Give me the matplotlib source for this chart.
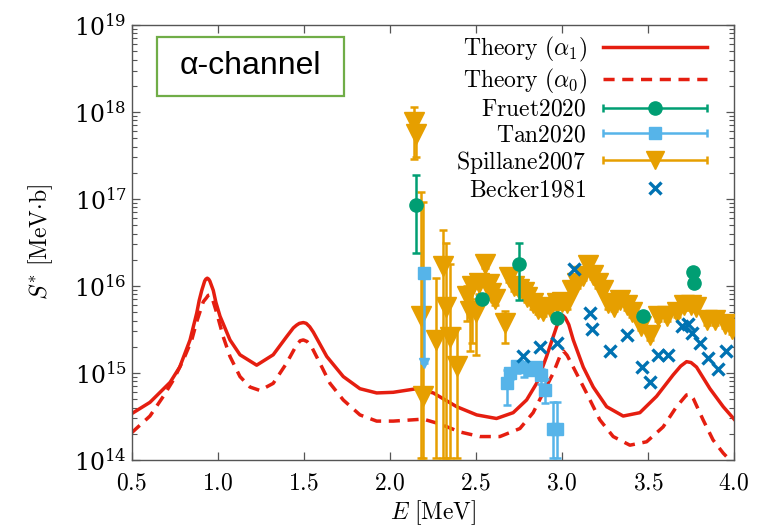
import numpy as np
import matplotlib

matplotlib.use("Agg")
import matplotlib.pyplot as plt
from matplotlib.container import ErrorbarContainer
from matplotlib.legend_handler import HandlerErrorbar
from matplotlib.patches import Rectangle
from matplotlib.ticker import FixedLocator, FuncFormatter, LogLocator, LogFormatterMathtext, NullFormatter

plt.rcParams["mathtext.fontset"] = "cm"
plt.rcParams["font.family"] = ["DejaVu Serif"]

# ---------------------------------------------------------------------------
# Data
# ---------------------------------------------------------------------------

# Theory, alpha_1 channel (solid)
theory_a1_E = [0.50, 0.607, 0.724, 0.78, 0.84, 0.879, 0.893, 0.908, 0.925, 0.932, 0.94,
               0.948, 0.955, 0.975, 0.99, 1.014, 1.072, 1.13, 1.227, 1.323, 1.40, 1.44,
               1.459, 1.475, 1.498, 1.515, 1.535, 1.556, 1.634, 1.73, 1.827, 1.924, 2.02,
               2.156, 2.253, 2.389, 2.505, 2.62, 2.717, 2.795, 2.853, 2.911, 2.94, 2.969,
               2.99, 3.005, 3.02, 3.04, 3.066, 3.124, 3.182, 3.26, 3.356, 3.453, 3.55,
               3.646, 3.69, 3.724, 3.75, 3.782, 3.86, 3.937, 4.0]
theory_a1_S = [3.4e14, 4.6e14, 7.8e14, 1.17e15, 2.4e15, 4.9e15, 6.8e15, 8.9e15, 1.14e16,
               1.2e16, 1.23e16, 1.2e16, 1.14e16, 8.9e15, 6.5e15, 4.5e15, 2.4e15, 1.62e15,
               1.23e15, 1.62e15, 2.6e15, 3.3e15, 3.55e15, 3.72e15, 3.8e15, 3.72e15,
               3.4e15, 2.95e15, 1.55e15, 9.1e14, 6.6e14, 5.9e14, 6.0e14, 6.6e14, 5.9e14,
               4.1e14, 3.3e14, 3.0e14, 3.5e14, 4.9e14, 7.6e14, 1.55e15, 2.3e15, 3.4e15,
               4.3e15, 4.6e15, 4.3e15, 3.6e15, 2.4e15, 1.17e15, 6.9e14, 4.1e14, 3.2e14,
               3.5e14, 5.4e14, 9.5e14, 1.2e15, 1.35e15, 1.32e15, 1.17e15, 6.6e14, 4.1e14,
               2.95e14]

# Theory, alpha_0 channel (dashed)
theory_a0_E = [0.50, 0.607, 0.685, 0.743, 0.80, 0.85, 0.879, 0.917, 0.935, 0.945, 0.956,
               0.965, 0.975, 0.995, 1.033, 1.072, 1.13, 1.188, 1.246, 1.323, 1.40, 1.459,
               1.48, 1.498, 1.52, 1.546, 1.595, 1.653, 1.73, 1.827, 1.924, 2.02, 2.195,
               2.29, 2.408, 2.524, 2.64, 2.756, 2.833, 2.891, 2.95, 2.988, 3.008, 3.03,
               3.066, 3.143, 3.22, 3.298, 3.395, 3.492, 3.588, 3.666, 3.724, 3.745, 3.763,
               3.82, 3.878, 3.937, 4.0]
theory_a0_S = [2.05e14, 3.2e14, 5.4e14, 8.3e14, 1.4e15, 2.4e15, 3.9e15, 6.6e15, 7.3e15,
               7.8e15, 7.9e15, 7.6e15, 6.6e15, 4.9e15, 2.6e15, 1.55e15, 9.1e14, 6.9e14,
               6.3e14, 7.6e14, 1.29e15, 2.1e15, 2.35e15, 2.4e15, 2.3e15, 2.0e15, 1.29e15,
               7.6e14, 4.9e14, 3.3e14, 2.8e14, 2.8e14, 2.95e14, 2.6e14, 2.1e14, 1.86e14,
               1.86e14, 2.3e14, 3.5e14, 5.9e14, 1.0e15, 1.55e15, 1.8e15, 1.6e15, 1.17e15,
               5.9e14, 2.9e14, 1.86e14, 1.48e14, 1.62e14, 2.4e14, 4.1e14, 5.6e14, 5.7e14,
               5.1e14, 2.9e14, 1.7e14, 1.2e14, 8.9e13]

# Fruet2020
fruet_E = [2.155, 2.535, 2.752, 2.97, 3.47, 3.76, 3.765]
fruet_S = [8.5e16, 7.1e15, 1.8e16, 4.3e15, 4.5e15, 1.45e16, 1.08e16]
fruet_lo = [2.4e16, 6.3e15, 6.9e15, 4.0e15, 4.2e15, 1.35e16, 1.0e16]
fruet_hi = [1.9e17, 8.0e15, 3.1e16, 4.6e15, 4.8e15, 1.55e16, 1.16e16]

# Tan2020
tan_E = [2.20, 2.68, 2.70, 2.74, 2.78, 2.82, 2.85, 2.88, 2.90, 2.95, 2.97]
tan_S = [1.4e16, 7.7e14, 1.0e15, 1.2e15, 1.17e15, 1.07e15, 1.17e15, 9.5e14, 6.3e14, 2.3e14, 2.3e14]
tan_lo = [1.3e15, 4.3e14, 8.5e14, 1.0e15, 9.0e14, 9.5e14, 1.0e15, 7.5e14, 4.5e14, 1.05e14, 1.05e14]
tan_hi = [1.5e16, 1.07e15, 1.15e15, 1.35e15, 1.3e15, 1.2e15, 1.3e15, 1.1e15, 8.5e14, 4.6e14, 4.6e14]

# Spillane2007
spill_E = [2.14, 2.15, 2.18, 2.195, 2.27, 2.31, 2.325, 2.35, 2.39,
           2.45, 2.465, 2.475, 2.50, 2.52, 2.555, 2.575, 2.59, 2.61, 2.67, 2.69,
           2.72, 2.75, 2.78, 2.80, 2.83, 2.86, 2.89, 2.93, 2.97, 3.00, 3.03, 3.06,
           3.09, 3.12, 3.15, 3.18, 3.21, 3.24, 3.27, 3.30, 3.34, 3.38, 3.41, 3.46,
           3.51, 3.56, 3.61, 3.67, 3.71, 3.75, 3.78, 3.84, 3.89, 3.95, 3.99]
spill_S = [7.6e17, 5.6e17, 4.5e15, 5.4e14, 2.4e15, 1.7e16, 5.8e15, 2.6e15, 1.2e15,
           7.6e15, 5.2e15, 1.0e16, 5.0e15, 1.07e16, 1.8e16, 1.05e16, 8.3e15, 7.1e15, 3.8e15, 1.26e16,
           1.0e16, 9.3e15, 8.5e15, 7.4e15, 6.3e15, 5.5e15, 5.2e15, 5.8e15, 6.3e15, 6.6e15, 6.3e15, 9.1e15,
           1.07e16, 1.32e16, 1.74e16, 1.35e16, 1.07e16, 9.1e15, 6.3e15, 5.8e15, 6.9e15, 6.0e15, 5.0e15, 3.5e15,
           2.75e15, 4.5e15, 4.5e15, 5.0e15, 6.0e15, 6.0e15, 5.8e15, 4.1e15, 4.1e15, 3.7e15, 3.2e15]
spill_lo = [2.9e17, 3.0e17, 1.05e14, 1.05e14, 1.05e14, 1.05e14, 1.05e14, 1.05e14, 1.05e14,
            4.0e15, 1.8e15, 2.2e15, 1.6e15, 8.0e15, 1.6e16, 9.0e15, 7.0e15, 6.0e15, 2.2e15, 1.1e16,
            8.8e15, 8.2e15, 7.5e15, 6.5e15, 5.5e15, 4.8e15, 4.5e15, 5.1e15, 5.5e15, 5.8e15, 5.5e15, 8.0e15,
            9.4e15, 1.16e16, 1.53e16, 1.19e16, 9.4e15, 8.0e15, 5.5e15, 5.1e15, 6.1e15, 5.3e15, 4.4e15, 3.1e15,
            2.4e15, 4.0e15, 4.0e15, 4.4e15, 5.3e15, 5.3e15, 5.1e15, 3.6e15, 3.6e15, 3.3e15, 2.8e15]
spill_hi = [1.15e18, 8.5e17, 1.2e17, 9.3e16, 1.23e16, 4.4e16, 3.1e16, 1.8e16, 3.3e15,
            1.0e16, 8.9e15, 1.17e16, 7.1e15, 1.3e16, 2.0e16, 1.2e16, 9.6e15, 8.2e15, 5.2e15, 1.42e16,
            1.13e16, 1.05e16, 9.6e15, 8.4e15, 7.1e15, 6.2e15, 5.9e15, 6.6e15, 7.1e15, 7.5e15, 7.1e15, 1.03e16,
            1.21e16, 1.49e16, 1.97e16, 1.53e16, 1.21e16, 1.03e16, 7.1e15, 6.6e15, 7.8e15, 6.8e15, 5.7e15, 4.0e15,
            3.1e15, 5.1e15, 5.1e15, 5.7e15, 6.8e15, 6.8e15, 6.6e15, 4.6e15, 4.6e15, 4.2e15, 3.6e15]

# Becker1981
becker_E = [2.775, 2.872, 2.969, 3.07, 3.163, 3.172, 3.279, 3.376, 3.463, 3.511,
            3.559, 3.617, 3.695, 3.73, 3.753, 3.80, 3.85, 3.908, 3.956]
becker_S = [1.55e15, 2.0e15, 2.2e15, 1.55e16, 4.9e15, 3.2e15, 1.78e15, 2.75e15, 1.17e15, 7.9e14,
            1.62e15, 1.62e15, 3.5e15, 3.7e15, 2.9e15, 2.2e15, 1.5e15, 1.12e15, 1.78e15]

x_ticks = [0.5, 1.0, 1.5, 2.0, 2.5, 3.0, 3.5, 4.0]

RED = "#e51e10"
GREEN = "#009e73"
LIGHTBLUE = "#56b4e9"
ORANGE = "#e69f00"
BLUE = "#0072b2"
FS = 17


def _bounds_to_err(values, lo, hi):
    v = np.asarray(values)
    return [v - np.asarray(lo), np.asarray(hi) - v]


fig = plt.figure(figsize=(7.58, 5.31), dpi=100)
ax = fig.add_axes([0.1735, 0.1337, 0.7949, 0.8192])

# theory curves
ax.plot(theory_a1_E, theory_a1_S, color=RED, lw=2.5, zorder=2)
ax.plot(theory_a0_E, theory_a0_S, color=RED, lw=2.5, dashes=(3.2, 2.2), zorder=2)

# data sets
err_kw = dict(linestyle="none", elinewidth=1.8, capsize=3, capthick=1.8)
ax.errorbar(spill_E, spill_S, yerr=_bounds_to_err(spill_S, spill_lo, spill_hi),
            fmt="v", color=ORANGE, ms=14, zorder=3, **err_kw)
ax.errorbar(fruet_E, fruet_S, yerr=_bounds_to_err(fruet_S, fruet_lo, fruet_hi),
            fmt="o", color=GREEN, ms=9.5, zorder=4, **err_kw)
ax.errorbar(tan_E, tan_S, yerr=_bounds_to_err(tan_S, tan_lo, tan_hi),
            fmt="s", color=LIGHTBLUE, ms=8, zorder=4, **err_kw)
ax.plot(tan_E[0], tan_lo[0], marker="v", color=LIGHTBLUE, ms=7, zorder=4)
ax.plot(becker_E, becker_S, "x", color=BLUE, ms=8, mew=2.4, zorder=5)

# legend proxies (gnuplot-style key with horizontal bars)
h_a1, = ax.plot([], [], color=RED, lw=2.5, label=r"$\mathrm{Theory}\ (\alpha_1)$")
h_a0, = ax.plot([], [], color=RED, lw=2.5, dashes=(3.2, 2.2), label=r"$\mathrm{Theory}\ (\alpha_0)$")
h_fr = ax.errorbar([np.nan], [np.nan], xerr=[1.0], fmt="o", color=GREEN, ms=9.5,
                   label=r"$\mathrm{Fruet2020}$", **err_kw)
h_tn = ax.errorbar([np.nan], [np.nan], xerr=[1.0], fmt="s", color=LIGHTBLUE, ms=8,
                   label=r"$\mathrm{Tan2020}$", **err_kw)
h_sp = ax.errorbar([np.nan], [np.nan], xerr=[1.0], fmt="v", color=ORANGE, ms=13,
                   label=r"$\mathrm{Spillane2007}$", **err_kw)
h_bk, = ax.plot([], [], "x", color=BLUE, ms=8, mew=2.4, label=r"$\mathrm{Becker1981}$")

ax.legend(handles=[h_a1, h_a0, h_fr, h_tn, h_sp, h_bk],
          handler_map={ErrorbarContainer: HandlerErrorbar(xerr_size=2.2)},
          loc="upper right", bbox_to_anchor=(0.955, 0.977), frameon=False,
          markerfirst=False, numpoints=1, handlelength=4.4, handletextpad=0.7,
          labelspacing=0.1, fontsize=FS, borderaxespad=0, borderpad=0)

# axes
ax.set_xlim(0.5, 4.0)
ax.set_ylim(1e14, 1e19)
ax.set_yscale("log")
ax.xaxis.set_major_locator(FixedLocator(x_ticks))
ax.xaxis.set_major_formatter(FuncFormatter(lambda v, _: r"$%.1f$" % v))
ax.yaxis.set_major_locator(LogLocator(base=10, numticks=10))
ax.yaxis.set_major_formatter(LogFormatterMathtext())
ax.yaxis.set_minor_locator(LogLocator(base=10, subs=np.arange(2, 10), numticks=20))
ax.yaxis.set_minor_formatter(NullFormatter())
ax.tick_params(which="both", direction="in", top=True, right=True, labelsize=FS,
               color="#555555")
ax.tick_params(which="major", length=6, width=0.9)
ax.tick_params(which="minor", length=3.5, width=0.8)
ax.tick_params(axis="x", pad=8)
for sp in ax.spines.values():
    sp.set_color("#555555")
    sp.set_linewidth(1.0)

ax.set_xlabel(r"$E\ [\mathrm{MeV}]$", fontsize=FS, labelpad=3)
ax.set_ylabel(r"$S^{*}\ [\mathrm{MeV{\cdot}b}]$", fontsize=FS, labelpad=14)

# channel tag
ax.add_patch(Rectangle((0.042, 0.837), 0.31, 0.136, transform=ax.transAxes,
                       fill=False, edgecolor="#70ad47", lw=1.6, zorder=6))
ax.text(0.197, 0.905, "α-channel", transform=ax.transAxes, ha="center", va="center",
        fontsize=23, family=["Liberation Sans"], zorder=6)

fig.savefig("out.png", dpi=100)
